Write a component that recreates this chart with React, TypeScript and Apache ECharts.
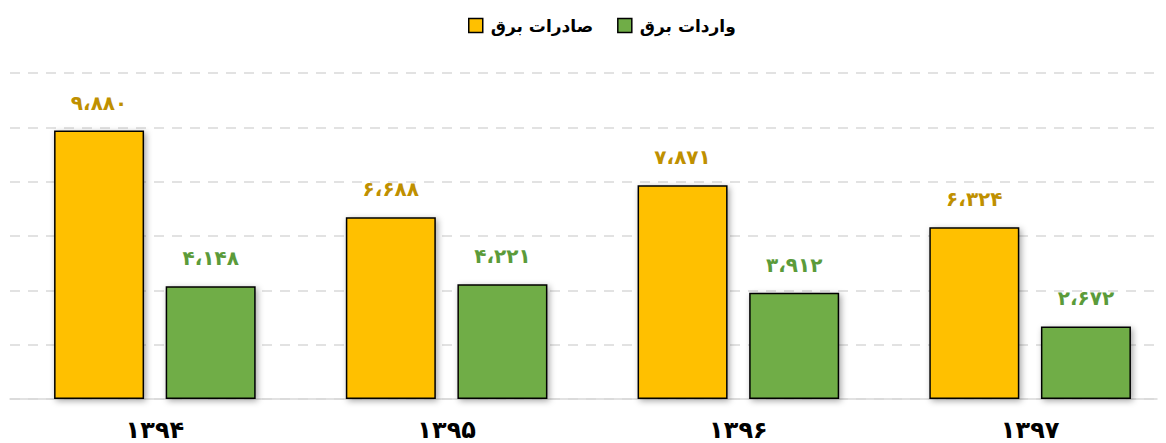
import React, { useEffect, useRef } from "react";
import * as echarts from "echarts";

const categories = ["1394", "1395", "1396", "1397"];
const exportsData = [9880, 6688, 7871, 6324];
const importsData = [4148, 4221, 3912, 2672];
const seriesNames = ["صادرات برق", "واردات برق"];

const fa = (s: string) => s.replace(/[0-9]/g, (d) => "۰۱۲۳۴۵۶۷۸۹"[+d]);
const fmtNum = (v: number) => fa(v.toLocaleString("en-US").replace(/,/g, "،"));

const EXTRA = 10;

export default function App() {
  const ref = useRef<HTMLDivElement>(null);
  useEffect(() => {
    const chart = echarts.init(ref.current!, null, { renderer: "svg" });
    const shadow = {
      shadowColor: "rgba(0,0,0,0.35)",
      shadowBlur: 6,
      shadowOffsetX: 2,
      shadowOffsetY: 2,
    };
    const labelBase = {
      show: true,
      position: "top",
      distance: 18,
      formatter: (p: any) => fmtNum(p.value),
      fontSize: 20,
      fontWeight: "bold",
    };
    chart.setOption({
      animation: false,
      backgroundColor: "#ffffff",
      textStyle: { fontFamily: "DejaVu Sans" },
      legend: {
        top: 12,
        left: 463,
        icon: "rect",
        itemWidth: 14,
        itemHeight: 14,
        itemGap: 24,
        textStyle: { fontSize: 17, fontWeight: "bold", color: "#000", padding: [0, 0, 0, 3] },
        data: seriesNames.map((n) => ({ name: n, itemStyle: { borderColor: "#000", borderWidth: 1.5 } })),
      },
      grid: [
        { left: 9, right: 0, top: 73, bottom: 44 },
        { left: 10, right: 9 + EXTRA, top: 73, bottom: 44 },
      ],
      xAxis: [
        {
          type: "category",
          gridIndex: 0,
          data: categories,
          axisLine: { show: false },
          axisTick: { show: false },
          axisLabel: {
            formatter: (v: string) => fa(v),
            fontSize: 24,
            lineHeight: 24,
            fontWeight: "bold",
            color: "#000",
            margin: 19,
          },
        },
        {
          type: "value",
          gridIndex: 1,
          min: 0,
          max: 1,
          show: true,
          axisLine: { show: true, onZero: false, lineStyle: { color: "#D9D9D9", width: 1.5 } },
          axisTick: { show: false },
          axisLabel: { show: false },
          splitLine: { show: false },
        },
      ],
      yAxis: [
        {
          type: "value",
          gridIndex: 0,
          min: 0,
          max: 12000,
          interval: 2000,
          show: false,
          splitLine: { show: false },
        },
        {
          type: "value",
          gridIndex: 1,
          min: 0,
          max: 12000,
          interval: 2000,
          axisLabel: { show: false },
          axisLine: { show: false },
          axisTick: { show: false },
          splitLine: { lineStyle: { color: "#D9D9D9", type: [10, 8], width: 1.5 } },
        },
      ],
      series: [
        {
          name: seriesNames[0],
          type: "bar",
          data: exportsData,
          barWidth: 90,
          barGap: "24%",
          itemStyle: { color: "#FFC000", borderColor: "#000", borderWidth: 1.5, ...shadow },
          label: { ...labelBase, color: "#BF9000" },
        },
        {
          name: seriesNames[1],
          type: "bar",
          data: importsData,
          barWidth: 90,
          itemStyle: { color: "#70AD47", borderColor: "#000", borderWidth: 1.5, ...shadow },
          label: { ...labelBase, color: "#5B9B3A" },
        },
      ],
    });
    return () => chart.dispose();
  }, []);
  return (
    <div style={{ position: "fixed", left: 0, top: 0, width: 1166, height: 443, overflow: "hidden" }}>
      <div ref={ref} style={{ position: "absolute", left: 0, top: 0, width: 1166 + EXTRA, height: 443 }} />
    </div>
  );
}
